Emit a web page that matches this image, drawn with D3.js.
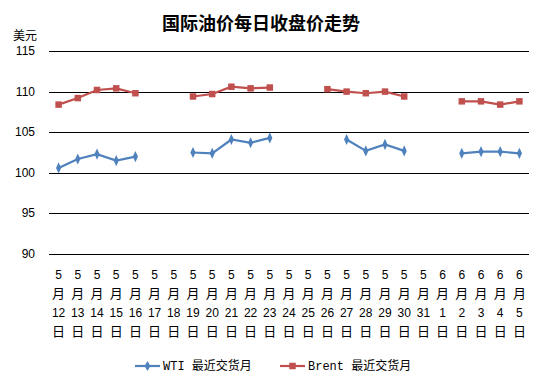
<!DOCTYPE html>
<html>
<head>
<meta charset="utf-8">
<script src="https://cdn.jsdelivr.net/npm/d3@7"></script>
<style>
  body { margin: 0; background: #fff; }
  text { font-family: "Liberation Sans", "Noto Sans CJK SC", sans-serif; fill: #000; }
</style>
</head>
<body>
<div id="chart"></div>
<script>
// categories: 5/12 .. 5/31, 6/1 .. 6/5
var months = ["5","5","5","5","5","5","5","5","5","5","5","5","5","5","5","5","5","5","5","5","6","6","6","6","6"];
var days = ["12","13","14","15","16","17","18","19","20","21","22","23","24","25","26","27","28","29","30","31","1","2","3","4","5"];

// null = no trading that day
var wti = [100.6, 101.7, 102.3, 101.5, 102.0, null, null, 102.5, 102.4, 104.1, 103.7, 104.3, null, null, null,
           104.1, 102.7, 103.5, 102.7, null, null, 102.4, 102.6, 102.6, 102.4];
var brent = [108.4, 109.2, 110.2, 110.4, 109.8, null, null, 109.4, 109.7, 110.6, 110.4, 110.5, null, null, 110.3,
             110.0, 109.8, 110.0, 109.4, null, null, 108.8, 108.8, 108.4, 108.8];

var yTicks = [90, 95, 100, 105, 110, 115];

var svgWidth = 544, svgHeight = 384;
var margin = { top: 51, right: 15, bottom: 130, left: 49 };
var width = svgWidth - margin.left - margin.right;
var height = 254 - margin.top;

var svg = d3.select("#chart").append("svg")
    .attr("width", svgWidth)
    .attr("height", svgHeight);

var g = svg.append("g")
    .attr("transform", `translate(${margin.left}, ${margin.top})`);

var xScale = d3.scaleBand()
    .domain(d3.range(days.length))
    .range([0, width]);

var yScale = d3.scaleLinear()
    .domain([90, 115])
    .range([height, 0]);

// gridlines
g.selectAll(".grid")
    .data(yTicks)
    .enter().append("line")
    .attr("x1", 0)
    .attr("x2", width)
    .attr("y1", d => Math.round(yScale(d)) + 0.5)
    .attr("y2", d => Math.round(yScale(d)) + 0.5)
    .attr("stroke", "#000")
    .attr("stroke-width", 1);

// y tick labels
g.selectAll(".ylab")
    .data(yTicks)
    .enter().append("text")
    .attr("x", -14)
    .attr("y", d => yScale(d) + 4)
    .attr("text-anchor", "end")
    .style("font-size", "12px")
    .text(d => d);

// x labels, stacked vertically
var xl = g.selectAll(".xlab")
    .data(days)
    .enter().append("text")
    .attr("text-anchor", "middle")
    .style("font-size", "12px");
var cx = (d, i) => xScale(i) + xScale.bandwidth() / 2;
xl.append("tspan").attr("x", cx).attr("y", height + 25).text((d, i) => months[i]);
xl.append("tspan").attr("x", cx).attr("y", height + 44).style("font-size", "13px").text("月");
xl.append("tspan").attr("x", cx).attr("y", height + 63).text(d => d);
xl.append("tspan").attr("x", cx).attr("y", height + 82).style("font-size", "13px").text("日");

// lines
var line = d3.line()
    .defined(d => d != null)
    .x((d, i) => cx(d, i))
    .y(d => yScale(d));

function drawSeries(data, color, shape) {
  g.append("path")
      .datum(data)
      .attr("fill", "none")
      .attr("stroke", color)
      .attr("stroke-width", 2.2)
      .attr("d", line);
  var sym = d3.symbol().type(shape).size(shape === d3.symbolSquare ? 42 : 36);
  g.selectAll(null)
      .data(data.map((v, i) => ({ v: v, i: i })).filter(d => d.v != null))
      .enter().append("path")
      .attr("d", sym)
      .attr("transform", d => `translate(${cx(null, d.i)}, ${yScale(d.v)})${shape === d3.symbolDiamond ? " scale(0.8,1)" : ""}`)
      .attr("fill", color);
}

drawSeries(wti, "#4F81BD", d3.symbolDiamond);
drawSeries(brent, "#C0504D", d3.symbolSquare);

// title
svg.append("text")
    .attr("x", 261)
    .attr("y", 30)
    .attr("text-anchor", "middle")
    .style("font-size", "18px")
    .style("font-weight", "bold")
    .style("font-family", "'Noto Sans CJK SC', sans-serif")
    .text("国际油价每日收盘价走势");

// y unit
svg.append("text")
    .attr("x", 13)
    .attr("y", 40)
    .style("font-size", "12px")
    .text("美元");

// legend
var legend = [
  { name: "WTI 最近交货月", color: "#4F81BD", shape: d3.symbolDiamond, x: 135 },
  { name: "Brent 最近交货月", color: "#C0504D", shape: d3.symbolSquare, x: 280 }
];
legend.forEach(function(l) {
  svg.append("line")
      .attr("x1", l.x).attr("x2", l.x + 25)
      .attr("y1", 366).attr("y2", 366)
      .attr("stroke", l.color).attr("stroke-width", 2.2);
  svg.append("path")
      .attr("d", d3.symbol().type(l.shape).size(l.shape === d3.symbolSquare ? 42 : 30)())
      .attr("transform", `translate(${l.x + 12.5}, 366)`)
      .attr("fill", l.color);
  svg.append("text")
      .attr("x", l.x + 28)
      .attr("y", 370)
      .style("font-size", "12px")
      .style("font-family", "'Liberation Mono', 'Noto Sans CJK SC', monospace")
      .text(l.name);
});
</script>
</body>
</html>
